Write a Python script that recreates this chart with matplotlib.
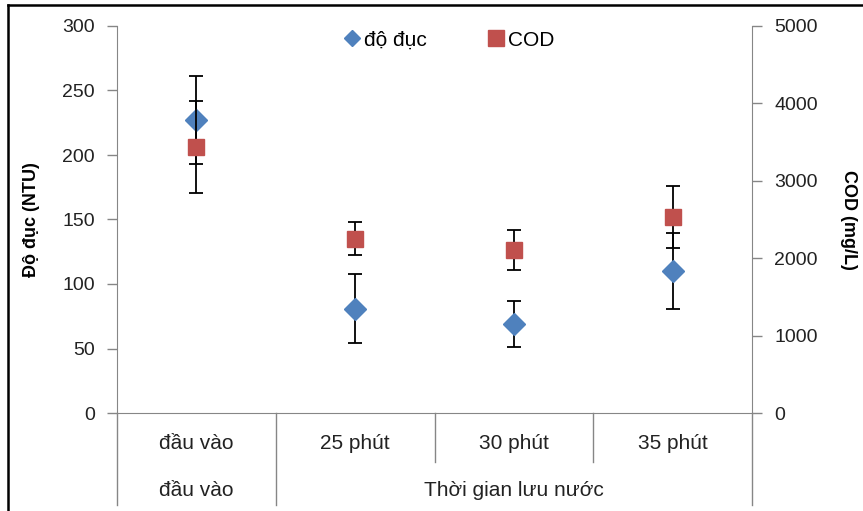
import matplotlib
matplotlib.use("Agg")
import matplotlib.pyplot as plt
from matplotlib.lines import Line2D
import matplotlib.transforms as mtransforms

plt.rcParams['font.family'] = ['Liberation Sans', 'DejaVu Sans']

categories = ["đầu vào", "25 phút", "30 phút", "35 phút"]
group_labels = ["đầu vào", "Thời gian lưu nước"]
turbidity = [227, 81, 69, 110]
turbidity_err = [34, 27, 17.5, 29.5]
cod = [3440, 2250, 2105, 2535]
cod_err = [595, 215, 255, 400]

W, H = 863, 511
fig = plt.figure(figsize=(W / 100, H / 100), dpi=100)
L, R, T, B = 117, 752, 26, 413
ax = fig.add_axes([L / W, 1 - B / H, (R - L) / W, (B - T) / H])
ax2 = ax.twinx()

blue = "#4F81BD"
red = "#C0504D"
grey = "#868686"
txt = "#222222"
x = list(range(len(categories)))

ax.errorbar(x, turbidity, yerr=turbidity_err, fmt="D", color=blue, ms=11.5,
            mec=blue, ecolor="black", elinewidth=1.3, capsize=4.7, capthick=1.3,
            zorder=3)
ax2.errorbar(x, cod, yerr=cod_err, fmt="s", color=red, ms=12,
             mec=red, ecolor="black", elinewidth=1.3, capsize=4.7, capthick=1.3,
             zorder=3)

ax.set_xlim(-0.5, 3.5)
ax.set_ylim(0, 300)
ax2.set_ylim(0, 5000)
ax.set_yticks(range(0, 301, 50))
ax2.set_yticks(range(0, 5001, 1000))
ax.set_xticks([])

for a in (ax, ax2):
    for s in a.spines.values():
        s.set_visible(False)
    a.tick_params(axis="y", colors=grey, labelcolor=txt, labelsize=14,
                  length=7, width=1, pad=9)
ax.spines["left"].set_visible(True)
ax.spines["left"].set_color(grey)
ax2.spines["right"].set_visible(True)
ax2.spines["right"].set_color(grey)
ax.spines["bottom"].set_visible(True)
ax.spines["bottom"].set_color(grey)

ax.set_ylabel("Độ đục (NTU)", fontsize=13, fontweight="bold", labelpad=16)
ax2.set_ylabel("COD (mg/L)", fontsize=13, fontweight="bold", rotation=-90,
               labelpad=28)

# multi-level category axis
trans = mtransforms.blended_transform_factory(ax.transData, fig.transFigure)
y0 = 1 - B / H
yb = 1 - 505 / H
ymid = 1 - 462 / H
for xb, ybot in [(-0.5, yb), (0.5, yb), (1.5, ymid), (2.5, ymid), (3.5, yb)]:
    fig.add_artist(Line2D([xb, xb], [y0, ybot], transform=trans,
                          color=grey, lw=1))
fam = ["Liberation Sans Narrow", "Liberation Sans", "DejaVu Sans"]
for xi, lab in zip(x, categories):
    fig.text(xi, 1 - 443 / H, lab, transform=trans, ha="center", va="center",
             fontsize=15, color=txt, family=fam)
fig.text(0, 1 - 490 / H, group_labels[0], transform=trans, ha="center",
         va="center", fontsize=15, color=txt, family=fam)
fig.text(2, 1 - 490 / H, group_labels[1], transform=trans, ha="center",
         va="center", fontsize=15, color=txt, family=fam)

# legend
handles = [Line2D([], [], ls="none", marker="D", ms=8, color=blue),
           Line2D([], [], ls="none", marker="s", ms=11, color=red)]
fig.legend(handles, ["độ đục", "COD"], loc="center",
           bbox_to_anchor=(450 / W, 1 - 40 / H), ncol=2, frameon=False,
           fontsize=15, handlelength=0.6, handletextpad=0.3, columnspacing=3.0)

# outer frame (top and left)
fig.add_artist(Line2D([8 / W, 1], [1 - 5 / H, 1 - 5 / H], transform=fig.transFigure,
                      color="black", lw=1.8))
fig.add_artist(Line2D([8 / W, 8 / W], [0, 1 - 5 / H], transform=fig.transFigure,
                      color="black", lw=1.8))

fig.savefig("out.png", dpi=100)
